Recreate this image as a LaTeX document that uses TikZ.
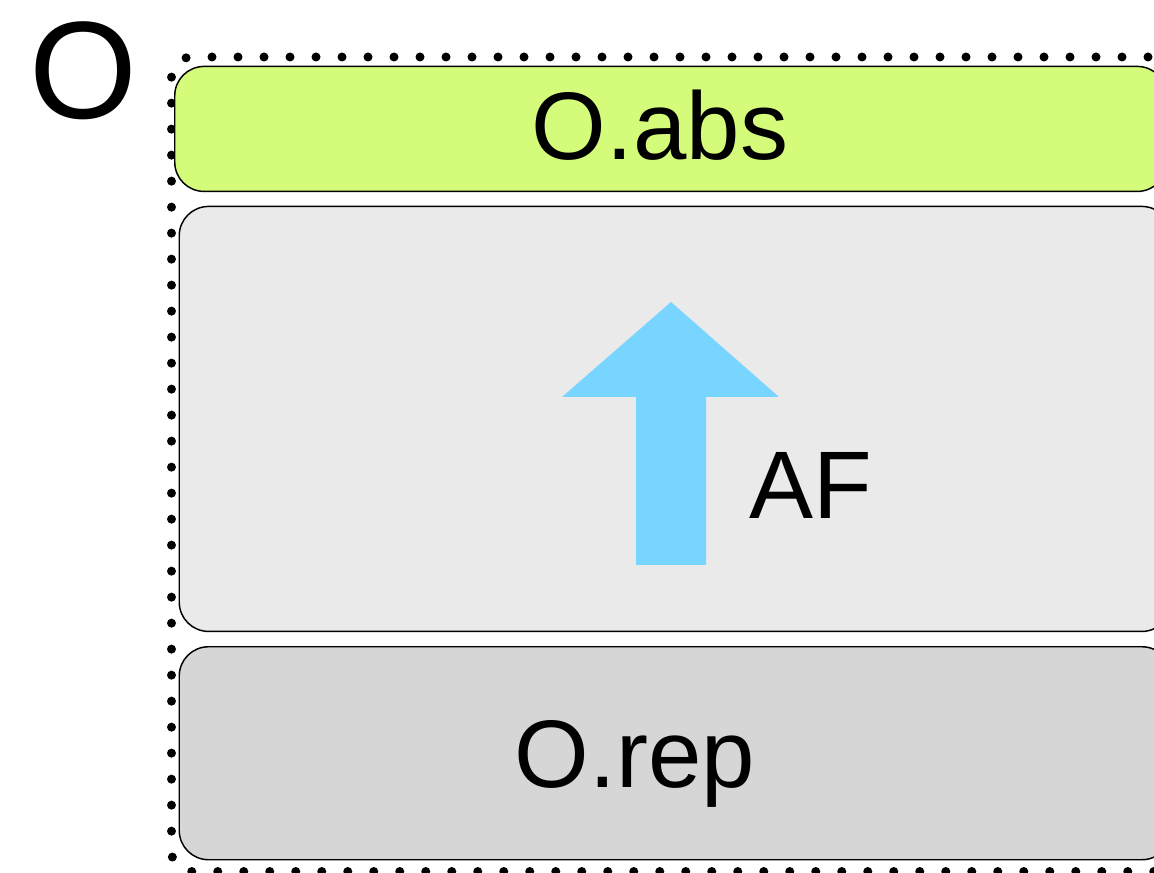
\documentclass[tikz,border=0pt]{standalone}
\usepackage{fontspec}
\setmainfont{Liberation Sans}
\definecolor{absgreen}{HTML}{D5FB7A}
\definecolor{midgray}{HTML}{EAEAEA}
\definecolor{repgray}{HTML}{D6D6D6}
\definecolor{afblue}{HTML}{77D5FF}
\begin{document}
\begin{tikzpicture}[x=0.75pt,y=-0.75pt,
  layer/.style={draw=black,line width=1.1pt,rounded corners=22pt,inner sep=0pt,
                anchor=north west,minimum width=744pt},
  lbl/.style={inner sep=0pt,anchor=base,font=\fontsize{72}{86}\selectfont}]
\useasboundingbox (0,0) rectangle (1154,873);
\clip (0,0) rectangle (1154,873);

% dotted frame around the object
\draw[line width=6.75pt,line cap=round,dash pattern=on 0pt off 19.5pt,rounded corners=15pt]
  (1200,57) -- (171.5,57) -- (171.5,871.5) -- (1200,871.5);

% layers
\node[layer,fill=absgreen,minimum height=93.75pt] (abs) at (174,65.7) {};
\node[layer,fill=midgray,minimum height=318.75pt] (mid) at (178.5,205.7) {};
\node[layer,fill=repgray,minimum height=159.75pt] (rep) at (178.5,646) {};

% abstraction arrow
\fill[afblue] (636,565) -- (636,397) -- (562,397) -- (671,302) -- (779,397)
  -- (706,397) -- (706,565) -- cycle;

% labels
\node[lbl] (absl) at (660,160) {O.abs};
\node[lbl] (repl) at (635,787) {O.rep};
\node[lbl] (af) at (811,519) {AF};
\node[inner sep=0pt,anchor=base,font=\fontsize{104}{124}\selectfont] (obj) at (83,118.5) {O};
\end{tikzpicture}
\end{document}
